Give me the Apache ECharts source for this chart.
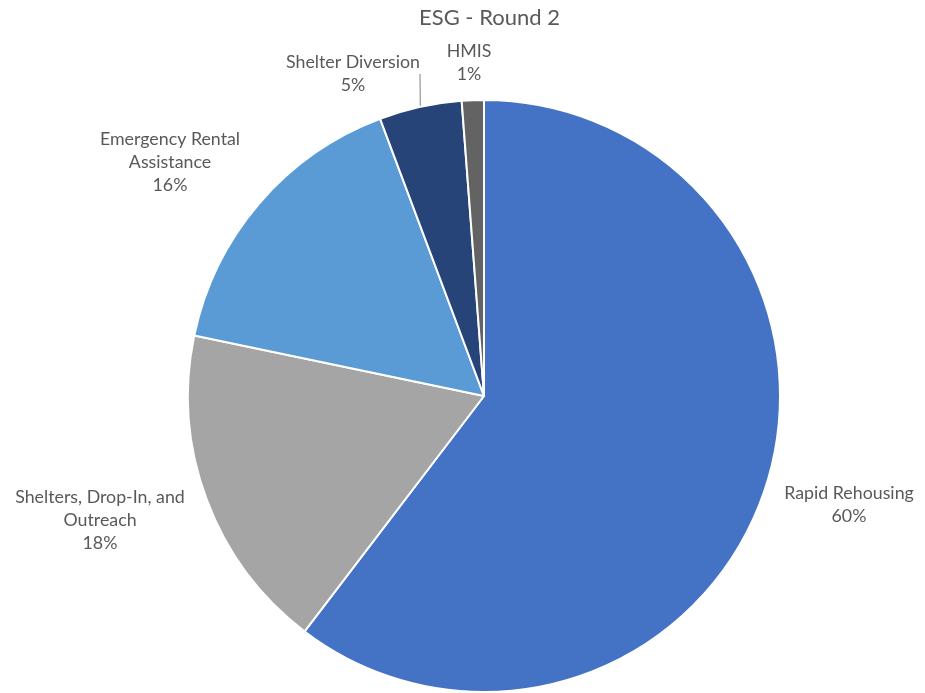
<!DOCTYPE html>
<html><head><meta charset="utf-8">
<script src="https://cdn.jsdelivr.net/npm/echarts@6/dist/echarts.min.js"></script>
<style>html,body{margin:0;padding:0;background:#fff}#c{width:925px;height:693px}</style>
</head><body><div id="c"></div>
<script>
const categories = ['Rapid Rehousing', 'Shelters, Drop-In, and\nOutreach', 'Emergency Rental\nAssistance', 'Shelter Diversion', 'HMIS'];
const values = [60.3, 17.9, 16.0, 4.5, 1.2];
const colors = ['#4472C4', '#A5A5A5', '#5B9BD5', '#264478', '#636363'];
const labelPos = [[849, 505], [100, 520], [170, 162], [353, 74], [469, 63]];

const chart = echarts.init(document.getElementById('c'));
chart.setOption({
  animation: false,
  title: { text: 'ESG - Round 2', left: 414, top: 2, textStyle: { fontFamily: 'Lato', fontWeight: 'normal', fontSize: 22, color: '#595959' } },
  series: [{
    type: 'pie',
    center: [484, 396],
    radius: 296,
    startAngle: 90,
    clockwise: true,
    itemStyle: { borderColor: '#fff', borderWidth: 2 },
    label: {
      show: true, position: 'outside', overflow: 'none',
      formatter: p => p.name + '\n' + Math.round(p.percent) + '%',
      fontFamily: 'Lato', fontSize: 17.8, lineHeight: 23, color: '#595959', align: 'center'
    },
    labelLine: { show: false },
    labelLayout: p => ({ x: labelPos[p.dataIndex][0], y: labelPos[p.dataIndex][1], align: 'center', verticalAlign: 'middle' }),
    data: categories.map((c, i) => ({
      name: c, value: values[i], itemStyle: { color: colors[i] },
      label: i === 0 ? { width: 200 } : {},
      labelLine: i === 3 ? { show: true, length: 0, length2: 0, lineStyle: { color: '#808080', width: 1 } } : { show: false }
    }))
  }]
});
</script></body></html>
